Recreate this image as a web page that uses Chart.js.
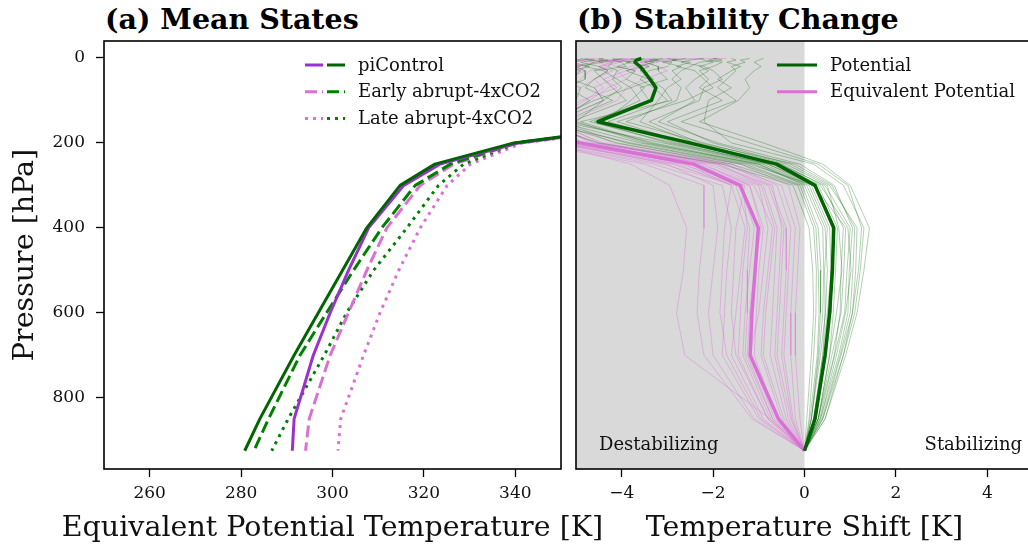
<!DOCTYPE html>
<html>
<head>
<meta charset="utf-8">
<script src="https://cdn.jsdelivr.net/npm/chart.js@4.4.0/dist/chart.umd.min.js"></script>
<style>
  body { margin: 0; width: 1028px; height: 548px; overflow: hidden; background: #fff; position: relative; }
  canvas { position: absolute; top: 0; }
  #meanChart { left: 0; }
  #shiftChart { left: 568px; }
  .panel-title { position: absolute; top: 2px; font-family: "DejaVu Serif", serif; font-weight: bold; font-size: 28.5px; line-height: normal; color: #000; white-space: nowrap; }
  .axis-title { position: absolute; top: 510px; font-family: "DejaVu Serif", serif; font-size: 28.5px; line-height: normal; color: #111; white-space: nowrap; transform: translateX(-50%); }
</style>
</head>
<body>
<div class="panel-title" style="left:105px">(a) Mean States</div>
<div class="panel-title" style="left:577px">(b) Stability Change</div>
<canvas id="meanChart" width="568" height="548"></canvas>
<canvas id="shiftChart" width="472" height="548"></canvas>
<div class="axis-title" style="left:332.5px">Equivalent Potential Temperature [K]</div>
<div class="axis-title" style="left:804.5px">Temperature Shift [K]</div>
<script>
// pressure levels [hPa]
const pressure = [1, 5, 10, 20, 30, 50, 70, 100, 150, 200, 250, 300, 400, 500, 600, 700, 850, 925];
const meanLevels = [100, 150, 200, 250, 300, 400, 500, 600, 700, 850, 925];

// (a) mean profiles [K], same order as meanLevels
const thetaPi     = [400, 375, 339.7, 322.4, 314.8, 307.5, 302.2, 296.9, 291.6, 284.1, 280.8];
const thetaEPi    = [400, 375.5, 340.8, 323.5, 315.6, 307.9, 303.5, 299.5, 295.8, 291.6, 291.2];
const thetaEarly  = [403, 377, 340.0, 325.8, 318.1, 310.8, 304.6, 298.7, 292.9, 286.0, 282.8];
const thetaEEarly = [403, 377.5, 340.4, 326.5, 319.2, 311.9, 307.5, 303.5, 299.5, 294.9, 294.1];
const thetaLate   = [404, 378, 340.4, 328.7, 323.2, 316.3, 309.0, 303.1, 298.2, 290.3, 286.7];
const thetaELate  = [404, 378.5, 341.5, 330.2, 325.1, 319.2, 314.5, 310.4, 306.8, 301.8, 301.2];

// (b) shift profiles [K], same order as pressure
const thetaShiftMean  = [-3.57, -3.68, -3.71, -3.60, -3.52, -3.38, -3.25, -3.35, -4.52, -2.51, -0.61, 0.23, 0.64, 0.61, 0.55, 0.45, 0.23, 0];
const thetaEShiftMean = [-9.0, -9.0, -8.8, -8.7, -8.5, -8.3, -8.0, -7.6, -7.0, -4.9, -2.43, -1.41, -1.01, -1.08, -1.15, -1.19, -0.57, 0];

// single models
const thetaShiftModels = [
  [-0.9, -1.0, -1.1, -0.95, -1.1, -1.3, -1.2, -1.45, -2.3, -0.9, 0.4, 1.0, 1.42, 1.3, 1.15, 0.9, 0.45, 0],
  [-1.6, -1.5, -1.7, -1.4, -1.6, -1.9, -1.6, -2.1, -2.2, -1.6, 0.2, 0.85, 1.3, 1.22, 1.1, 0.85, 0.4, 0],
  [-2.3, -2.2, -2.0, -2.3, -2.1, -2.4, -2.6, -2.4, -3.2, -1.9, -0.1, 0.65, 1.05, 0.98, 0.95, 0.75, 0.35, 0],
  [-3.0, -2.8, -3.1, -2.7, -2.9, -2.7, -3.0, -3.2, -3.6, -2.4, -0.5, 0.4, 0.85, 0.8, 0.78, 0.65, 0.3, 0],
  [-4.2, -4.0, -3.8, -4.1, -3.7, -3.9, -3.5, -3.8, -4.4, -2.8, -0.8, 0.3, 0.72, 0.68, 0.63, 0.55, 0.3, 0],
  [-4.8, -4.6, -4.9, -4.5, -4.3, -4.6, -4.8, -4.2, -5.3, -3.1, -0.9, 0.15, 0.55, 0.58, 0.5, 0.4, 0.2, 0],
  [-3.5, -3.7, -3.3, -3.6, -3.9, -3.4, -3.1, -2.9, -4.9, -3.4, -1.1, 0.05, 0.45, 0.5, 0.46, 0.35, 0.15, 0],
  [-5.3, -5.1, -5.4, -5.2, -5.6, -5.0, -5.3, -5.5, -5.8, -3.8, -1.3, -0.05, 0.3, 0.36, 0.35, 0.3, 0.15, 0],
  [-2.6, -2.9, -2.5, -2.8, -2.4, -2.2, -2.0, -2.6, -4.1, -2.6, -0.6, 0.35, 0.95, 1.02, 0.9, 0.7, 0.35, 0],
  [-4.5, -4.3, -4.6, -4.8, -4.4, -4.1, -3.8, -4.6, -5.6, -4.1, -1.6, -0.15, 0.2, 0.26, 0.25, 0.2, 0.1, 0],
  [-1.9, -2.1, -1.8, -2.0, -2.3, -2.1, -2.3, -1.8, -3.0, -2.0, -0.3, 0.55, 1.15, 1.12, 1.05, 0.85, 0.45, 0],
  [-5.0, -5.3, -5.1, -4.7, -5.1, -5.4, -4.9, -5.0, -5.9, -4.5, -1.8, -0.25, 0.1, 0.18, 0.2, 0.15, 0.05, 0],
  [-3.3, -3.2, -3.5, -3.2, -3.2, -3.0, -3.6, -3.4, -4.7, -2.9, -0.7, 0.25, 0.6, 0.64, 0.55, 0.45, 0.25, 0],
  [-4.0, -4.2, -4.0, -3.9, -4.6, -4.4, -4.2, -3.9, -5.1, -3.3, -1.0, 0.1, 0.5, 0.44, 0.45, 0.4, 0.2, 0],
  [-2.0, -1.8, -2.3, -2.5, -2.7, -2.9, -2.7, -2.8, -3.9, -2.2, -0.4, 0.5, 0.75, 0.82, 0.7, 0.55, 0.3, 0],
  [-4.9, -4.7, -4.4, -5.0, -4.8, -4.8, -5.2, -4.7, -5.4, -3.6, -1.2, 0.2, 0.9, 0.86, 0.8, 0.6, 0.3, 0],
  [-1.2, -1.4, -1.3, -1.6, -1.5, -1.7, -1.9, -1.5, -2.7, -1.2, 0.3, 0.95, 1.25, 1.18, 1.05, 0.8, 0.4, 0],
  [-3.8, -3.6, -3.9, -3.4, -3.6, -3.3, -3.8, -3.6, -4.6, -3.0, -0.8, 0.2, 0.65, 0.6, 0.58, 0.48, 0.22, 0],
  [-5.2, -4.9, -5.0, -5.3, -4.9, -5.1, -4.6, -4.4, -5.5, -3.9, -1.4, -0.1, 0.25, 0.3, 0.32, 0.28, 0.12, 0],
  [-2.2, -2.5, -2.7, -2.2, -2.0, -1.8, -2.2, -2.3, -3.4, -2.3, -0.2, 0.6, 1.1, 1.06, 1.0, 0.78, 0.38, 0],
  [-4.4, -4.5, -4.2, -4.3, -4.1, -4.2, -4.0, -4.4, -5.0, -3.5, -1.0, 0.0, 0.4, 0.42, 0.4, 0.32, 0.15, 0],
  [-3.1, -3.4, -2.9, -3.0, -3.4, -3.6, -3.3, -3.0, -4.3, -2.7, -0.55, 0.45, 1.0, 0.93, 0.88, 0.66, 0.33, 0]
];

const thetaEShiftModels = [
  [-9.5, -9.0, -8.8, -8.5, -8.2, -8.0, -7.8, -7.5, -7.0, -5.6, -3.8, -2.95, -2.58, -2.65, -2.8, -2.62, -0.75, 0],
  [-8.0, -7.6, -7.5, -7.2, -7.0, -6.8, -6.7, -6.5, -6.3, -5.3, -3.0, -2.0, -1.9, -2.0, -2.1, -2.0, -1.1, 0],
  [-4.4, -4.9, -4.6, -5.1, -4.8, -5.2, -5.5, -5.3, -6.1, -5.0, -2.6, -1.6, -1.3, -1.4, -1.5, -1.6, -0.9, 0],
  [-4.6, -4.9, -5.3, -5.0, -5.4, -5.6, -5.5, -5.8, -6.0, -4.8, -2.2, -1.2, -0.9, -1.0, -1.05, -1.1, -0.6, 0],
  [-8.5, -8.2, -8.0, -7.9, -7.7, -7.5, -7.3, -7.0, -6.6, -5.5, -2.9, -1.4, -1.1, -1.2, -1.3, -1.35, -0.75, 0],
  [-3.9, -4.3, -4.0, -4.5, -4.2, -4.6, -4.9, -5.2, -5.7, -4.6, -1.9, -0.9, -0.6, -0.65, -0.7, -0.75, -0.4, 0],
  [-6.5, -6.2, -6.4, -6.0, -5.8, -6.1, -6.3, -6.0, -6.2, -5.2, -2.4, -1.1, -0.7, -0.8, -0.9, -0.95, -0.5, 0],
  [-4.0, -3.6, -4.2, -4.5, -4.3, -4.6, -4.4, -4.8, -5.6, -4.4, -1.6, -0.6, -0.3, -0.35, -0.4, -0.45, -0.25, 0],
  [-9.0, -8.7, -8.4, -8.1, -7.8, -7.6, -7.4, -7.2, -6.9, -5.8, -3.3, -1.8, -1.6, -1.7, -1.75, -1.8, -1.0, 0],
  [-5.6, -5.3, -5.8, -5.5, -5.2, -5.4, -5.7, -5.5, -6.1, -4.9, -2.0, -0.8, -0.45, -0.5, -0.55, -0.6, -0.3, 0],
  [-1.7, -4.6, -3.5, -3.2, -3.0, -3.5, -3.9, -4.1, -5.2, -4.2, -1.4, -0.35, -0.1, -0.15, -0.2, -0.2, -0.1, 0],
  [-7.5, -7.3, -7.1, -7.0, -6.8, -6.6, -6.5, -6.4, -6.4, -5.4, -2.7, -1.3, -1.5, -1.55, -1.6, -1.5, -0.8, 0],
  [-5.2, -4.8, -5.1, -4.9, -5.3, -5.0, -5.4, -5.6, -5.9, -5.1, -2.3, -1.0, -0.8, -0.9, -1.0, -1.2, -0.65, 0],
  [-10, -9.6, -9.3, -9.0, -8.8, -8.5, -8.2, -7.9, -7.4, -6.0, -3.5, -2.2, -2.2, -2.3, -2.35, -2.2, -1.15, 0],
  [-2.8, -3.5, -3.2, -3.8, -4.1, -3.9, -4.3, -4.7, -5.5, -4.7, -1.8, -0.5, -0.2, -0.25, -0.3, -0.3, -0.2, 0],
  [-8.8, -8.4, -8.2, -8.0, -7.6, -7.3, -7.0, -6.8, -6.7, -5.7, -3.1, -1.5, -1.2, -1.25, -1.25, -1.3, -0.7, 0],
  [-3.6, -4.1, -4.5, -4.3, -4.7, -4.9, -5.1, -5.6, -6.5, -5.3, -2.5, -1.2, -0.95, -1.1, -1.2, -1.25, -0.7, 0],
  [-3.3, -3.9, -4.4, -4.1, -3.7, -4.2, -4.6, -4.4, -5.4, -4.5, -1.7, -0.7, -0.5, -0.55, -0.6, -0.65, -0.35, 0],
  [-8.2, -7.9, -7.7, -7.5, -7.3, -7.1, -6.9, -6.7, -6.5, -5.5, -2.8, -1.6, -1.75, -1.8, -1.85, -1.7, -0.95, 0],
  [-5.0, -5.5, -5.2, -4.8, -4.9, -5.3, -5.1, -5.4, -5.8, -4.9, -2.1, -0.95, -0.65, -0.75, -0.85, -0.9, -0.45, 0],
  [-2.3, -2.9, -3.6, -3.4, -3.9, -4.4, -4.1, -4.9, -5.6, -4.6, -1.9, -0.75, -0.4, -0.4, -0.45, -0.5, -0.28, 0],
  [-7.2, -7.0, -6.7, -6.9, -6.6, -6.3, -6.1, -6.0, -6.3, -5.2, -2.5, -1.35, -1.25, -1.35, -1.4, -1.45, -0.8, 0]
];

const tempTicks = [260, 280, 300, 320, 340];
const shiftTicks = [-4, -2, 0, 2, 4];
const pressureTicks = [0, 200, 400, 600, 800];

const DARKORCHID = '#9932CC';
const ORCHID = '#DA70D6';
const DARKGREEN = '#006400';
const GREEN = '#008000';
const DASHED = [12, 5];
const DOTTED = [3, 5];

const serif = '"DejaVu Serif", serif';
const tickFont = { family: serif, size: 17 };
const labelFont = '28.5px ' + serif;
const smallFont = '18px ' + serif;

function pairs(xs, ps) {
  return xs.map(function (v, i) { return { x: v, y: ps[i] }; });
}

function line(data, color, width, dash, order) {
  return {
    data: data, borderColor: color, backgroundColor: color, borderWidth: width,
    borderDash: dash || [], borderCapStyle: 'butt', borderJoinStyle: 'round',
    showLine: true, pointRadius: 0, fill: false, tension: 0, order: order || 0
  };
}

function tickGrid() {
  return { drawOnChartArea: false, drawTicks: true, tickLength: 8, tickColor: '#000', tickWidth: 1.3, color: '#000' };
}

function xAxis(min, max, ticks) {
  return {
    type: 'linear', min: min, max: max,
    afterBuildTicks: function (s) { s.ticks = ticks.map(function (v) { return { value: v }; }); },
    afterFit: function (s) { s.height = 79; },
    grid: tickGrid(),
    border: { display: false },
    ticks: {
      font: tickFont, color: '#111', padding: 6, maxRotation: 0, autoSkip: false,
      callback: function (v) { return String(v).replace('-', '\u2212'); }
    }
  };
}

// box round the plot area, like matplotlib spines
const frame = {
  id: 'frame',
  afterDraw: function (chart) {
    const ctx = chart.ctx, a = chart.chartArea;
    ctx.save();
    ctx.strokeStyle = '#000';
    ctx.lineWidth = 1.6;
    ctx.strokeRect(a.left, a.top, a.right - a.left, a.bottom - a.top);
    ctx.restore();
  }
};

// rotated pressure label
const yTitle = {
  id: 'yTitle',
  afterDraw: function (chart, args, opts) {
    const ctx = chart.ctx, a = chart.chartArea;
    ctx.save();
    ctx.font = labelFont;
    ctx.fillStyle = '#111';
    ctx.textAlign = 'center';
    ctx.textBaseline = 'alphabetic';
    ctx.translate(33, (a.top + a.bottom) / 2);
    ctx.rotate(-Math.PI / 2);
    ctx.fillText(opts.text, 0, 0);
    ctx.restore();
  }
};

// grey band for the destabilizing half
const shade = {
  id: 'shade',
  beforeDatasetsDraw: function (chart) {
    const ctx = chart.ctx, a = chart.chartArea, x = chart.scales.x;
    const x0 = Math.max(a.left, x.getPixelForValue(-5));
    const x1 = x.getPixelForValue(0);
    ctx.save();
    ctx.fillStyle = '#d9d9d9';
    ctx.fillRect(x0, a.top, x1 - x0, a.bottom - a.top);
    ctx.restore();
  }
};

// legend with one or two handles per row
const pairLegend = {
  id: 'pairLegend',
  afterDatasetsDraw: function (chart, args, opts) {
    const ctx = chart.ctx, a = chart.chartArea;
    const x0 = a.right - 256;
    ctx.save();
    ctx.font = smallFont;
    ctx.textBaseline = 'middle';
    ctx.textAlign = 'left';
    opts.rows.forEach(function (row, i) {
      const y = a.top + 24 + i * 26.7;
      const segW = row.items.length > 1 ? 18 : 40;
      row.items.forEach(function (it, j) {
        ctx.beginPath();
        ctx.strokeStyle = it.color;
        ctx.lineWidth = it.width || 3;
        ctx.setLineDash(it.dash || []);
        ctx.moveTo(x0 + j * 22, y);
        ctx.lineTo(x0 + j * 22 + segW, y);
        ctx.stroke();
      });
      ctx.setLineDash([]);
      ctx.fillStyle = '#111';
      ctx.fillText(row.label, x0 + 53, y + 1);
    });
    ctx.restore();
  }
};

const sideNotes = {
  id: 'sideNotes',
  afterDatasetsDraw: function (chart) {
    const ctx = chart.ctx, a = chart.chartArea;
    ctx.save();
    ctx.font = smallFont;
    ctx.fillStyle = '#111';
    ctx.textBaseline = 'middle';
    ctx.textAlign = 'left';
    ctx.fillText('Destabilizing', a.left + 23, a.bottom - 24);
    ctx.textAlign = 'right';
    ctx.fillText('Stabilizing', a.right - 11, a.bottom - 24);
    ctx.restore();
  }
};

// (a) Mean States
new Chart(document.getElementById('meanChart'), {
  type: 'scatter',
  data: {
    datasets: [
      line(pairs(thetaPi, meanLevels), DARKGREEN, 3),
      line(pairs(thetaEPi, meanLevels), DARKORCHID, 3),
      line(pairs(thetaEarly, meanLevels), GREEN, 3, DASHED),
      line(pairs(thetaEEarly, meanLevels), ORCHID, 3, DASHED),
      line(pairs(thetaLate, meanLevels), GREEN, 3, DOTTED),
      line(pairs(thetaELate, meanLevels), ORCHID, 3, DOTTED)
    ]
  },
  options: {
    responsive: false, animation: false, events: [],
    layout: { padding: { top: 41, right: 7, left: 0, bottom: 0 } },
    scales: {
      x: xAxis(250, 350, tempTicks),
      y: {
        type: 'linear', reverse: true, min: -40, max: 968,
        afterBuildTicks: function (s) { s.ticks = pressureTicks.map(function (v) { return { value: v }; }); },
        afterFit: function (s) { s.width = 104; },
        grid: tickGrid(),
        border: { display: false },
        ticks: { font: tickFont, color: '#111', padding: 11, autoSkip: false }
      }
    },
    plugins: {
      legend: { display: false },
      tooltip: { enabled: false },
      yTitle: { text: 'Pressure [hPa]' },
      pairLegend: {
        rows: [
          { label: 'piControl', items: [{ color: DARKORCHID }, { color: DARKGREEN }] },
          { label: 'Early abrupt-4xCO2', items: [{ color: ORCHID, dash: DASHED }, { color: GREEN, dash: DASHED }] },
          { label: 'Late abrupt-4xCO2', items: [{ color: ORCHID, dash: DOTTED }, { color: GREEN, dash: DOTTED }] }
        ]
      }
    }
  },
  plugins: [frame, yTitle, pairLegend]
});

// (b) Stability Change
const shiftSets = [
  line(pairs(thetaShiftMean, pressure), DARKGREEN, 3.5, null, 0),
  line(pairs(thetaEShiftMean, pressure), ORCHID, 3.5, null, 0)
];
thetaShiftModels.forEach(function (m) {
  shiftSets.push(line(pairs(m, pressure), 'rgba(0,100,0,0.3)', 1, null, 2));
});
thetaEShiftModels.forEach(function (m) {
  shiftSets.push(line(pairs(m, pressure), 'rgba(218,112,214,0.4)', 1, null, 2));
});

new Chart(document.getElementById('shiftChart'), {
  type: 'scatter',
  data: { datasets: shiftSets },
  options: {
    responsive: false, animation: false, events: [],
    layout: { padding: { top: 41, right: 7, left: 8, bottom: 0 } },
    scales: {
      x: xAxis(-5, 5, shiftTicks),
      y: { type: 'linear', reverse: true, min: -40, max: 968, display: false }
    },
    plugins: {
      legend: { display: false },
      tooltip: { enabled: false },
      pairLegend: {
        rows: [
          { label: 'Potential', items: [{ color: DARKGREEN }] },
          { label: 'Equivalent Potential', items: [{ color: ORCHID }] }
        ]
      }
    }
  },
  plugins: [shade, frame, pairLegend, sideNotes]
});
</script>
</body>
</html>
